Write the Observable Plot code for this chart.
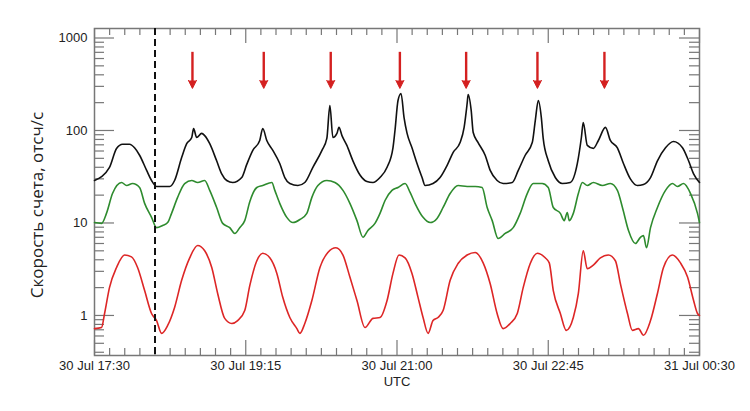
<!DOCTYPE html>
<html>
<head>
<meta charset="utf-8">
<script src="https://cdn.jsdelivr.net/npm/d3@7"></script>
<script src="https://cdn.jsdelivr.net/npm/@observablehq/plot@0.6"></script>
<style>
  html, body { margin: 0; padding: 0; background: #fff; }
</style>
</head>
<body>
<div id="chart"></div>
<script>
// Time in minutes after 30 Jul 17:30 UTC; values in counts/s
const blackT = [0,10.4,15.3,19.5,24.3,27.8,31.3,36.2,39.6,43.1,52.2,55.6,60.5,64,67.5,68.8,70.9,74.4,76.5,80,84.8,88.3,91.8,96,102.2,105.7,109.9,114.7,116.8,119.6,123.8,128.6,132.1,135.6,141.2,146,151.6,157.9,161.3,163.4,165.5,168.3,169.7,171.8,175.2,179.4,184.3,189.1,193.3,198.2,203.1,207.2,208.6,210.7,212.8,214.9,217,220.4,223.9,227.4,229.5,235,239.9,244.8,249,253.8,256.6,258.7,259.4,261.5,262.9,266.3,271.2,274.7,279.5,283.7,290,294.2,299,303.9,306,308.1,310.2,311.5,315,319.9,324.8,330.3,335.2,338,339.3,342.1,346.3,349.8,354.7,358.1,363,367.2,372,376.9,381.1,386,390.8,396.4,401.9,408.2,412.4,415.9,420];
const blackV = [28.8,40,64,71,71,65,54,37,28.8,24.8,24.8,28.8,51,72,84,105,84,93,88,72,47,34,28.8,27.4,31,43,61,78,105,78,61,44,31,26.7,25.4,27.4,40,61,82,186,84,93,108,88,69,47,33,28.1,27.4,31,40,65,100,211,251,138,93,65,44,31,25.4,26.7,31,42,58,74,108,196,245,165,95,74,54,37,28.8,26.7,27.4,37,54,74,128,211,138,82,47,31,26.7,27.4,44,84,122,69,64,78,108,78,65,44,30,25.4,26.1,31,47,65,76,65,47,34,27.4];

const greenT = [0,4.9,8.3,12.5,18.8,22.3,26.4,31.3,34.8,39.6,43.1,47.3,50.8,53.5,57.7,62.6,67.5,71.6,76.5,80,84.8,89,93.9,97.4,100.8,104.3,107.8,112.7,116.8,123.1,125.2,128.6,133.5,137.7,142.6,147.4,150.9,155.1,161.3,166.9,172.5,177.3,182.2,186.4,189.8,194.7,198.2,201.7,206.5,210.7,215.6,219.1,222.5,228.1,233,237.8,242,246.9,252.4,258.7,264.3,269.1,272.6,276.1,280.2,285.1,290.7,295.5,300.4,304.6,310.8,315,318.5,323.4,326.1,328.2,329.6,332.4,335.9,338.7,342.1,346.3,352.6,358.1,363,366.5,370.7,375.5,379,381.1,383.2,386,390.8,396.4,401.2,404.7,408.9,413.8,418.6,420];
const greenV = [10.1,9.9,12.7,20.8,27.4,25.4,26.7,24.2,16.3,11.5,8.9,9.4,10.1,12.7,18.9,26.7,28.8,27.4,28.8,22.5,14.7,9.9,8.9,7.7,8.9,10.6,17,24.2,25.4,27.4,22.5,16.3,11.5,10.1,10.9,12.7,18.9,25.4,28.8,27.4,22.5,16.3,10.6,7.0,8.3,9.9,12.7,17.5,22.5,24.2,26.7,21.4,16.3,11.5,10.1,11.2,14.7,20.8,25.4,24.8,24.8,24.2,14.7,10.6,6.8,7.7,8.9,12.7,20.8,26.7,26.7,24.2,14.7,12.7,10.6,13.0,10.6,12.7,20.8,27.4,25.4,27.4,25.4,26.7,22.5,14.7,8.3,6.0,7.0,7.3,5.4,8.9,14.7,22.5,26.7,24.8,26.7,20.8,12.7,10.1];

const redT = [0,4.9,7,10.4,15.3,20.9,25.7,29.9,34.8,39.6,43.1,46.6,50.8,55.6,60.5,66.1,71.6,76.5,81.4,85.5,90.4,95.3,99.4,104.3,107.8,112.7,116.8,121.7,126.6,130.7,135.6,140.5,142.6,146,150.9,156.5,162,167.6,172.5,177.3,182.2,187.8,193.3,198.2,203.1,207.2,211.4,215.6,220.4,224.6,228.1,231.6,235,238.5,242,246.9,252.4,258.7,264.3,269.8,274.7,279.5,283.7,288.6,293.5,297.6,302.5,307.4,312.9,315.7,318.5,323.4,327.5,332.4,335.9,339.3,342.1,346.3,351.2,356.7,361.6,365.1,370,373.4,377.6,381.1,386,390.8,395,401.2,406.8,411.7,415.9,418.6,420];
const redV = [0.72,0.74,1.05,2.0,3.3,4.5,4.3,3.3,1.86,1.05,0.88,0.64,0.78,1.22,2.4,4.2,5.7,5.0,3.3,1.73,0.93,0.82,0.88,1.13,2.1,3.9,4.7,4.2,2.85,1.57,0.95,0.72,0.64,0.82,1.45,3.3,4.8,5.4,4.5,2.6,1.45,0.74,0.93,0.95,1.45,2.85,4.5,4.2,2.85,1.57,0.95,0.64,0.88,0.95,1.13,2.4,3.65,4.5,4.8,3.7,2.2,1.05,0.72,0.82,1.05,2.0,3.65,4.7,4.2,3.7,1.86,1.05,0.69,0.95,1.73,5.0,3.2,3.5,4.2,4.5,3.9,2.2,1.05,0.69,0.72,0.61,0.88,1.73,3.3,4.5,3.7,2.6,1.45,1.05,1.0];

const arrowTimes = [68, 117.5, 164, 212, 258, 307.5, 354];
const arrowFrom = 700;
const arrowTo = 285;
const eventTime = 42;

const majorTicks = [0, 105, 210, 315, 420];
const majorLabels = ["30 Jul 17:30", "30 Jul 19:15", "30 Jul 21:00", "30 Jul 22:45", "31 Jul 00:30"];
const minorStep = 10.5;
const yMajor = [1, 10, 100, 1000];
const yLabels = ["1", "10", "100", "1000"];
const yTitle = "Скорость счета, отсч/с";
const xTitle = "UTC";

const W = 750, H = 411;
const mL = 94, mR = 51, mT = 28, mB = 56;
const innerW = W - mL - mR, innerH = H - mT - mB;

const toRows = (T, V) => T.map((t, i) => ({t, v: V[i]}));
const black = toRows(blackT, blackV);
const green = toRows(greenT, greenV);
const red = toRows(redT, redV);

const minorX = d3.range(0, 420 + 0.01, minorStep).filter(m => !majorTicks.includes(m));
const yMinor = [];
for (const dec of [0.1, 1, 10, 100]) for (let k = 2; k <= 9; k++) {
  const v = +(k * dec).toPrecision(3);
  if (v >= 0.37 && v <= 1267) yMinor.push(v);
}

const axisColor = "#777";
const arrowColor = "#d42020";
const chart = Plot.plot({
  width: W, height: H,
  marginLeft: mL, marginRight: mR, marginTop: mT, marginBottom: mB,
  style: {fontFamily: "'Liberation Sans', Arial, sans-serif", fontSize: "13px", background: "#fff", color: "#222"},
  x: {type: "linear", domain: [0, 420], label: null, axis: null},
  y: {type: "log", domain: [0.369, 1267], label: null, axis: null},
  marks: [
    // inward ticks
    Plot.ruleX(minorX, {x: d => d, insetTop: innerH - 7, stroke: axisColor, strokeWidth: 1.2}),
    Plot.ruleX(minorX, {x: d => d, insetBottom: innerH - 7, stroke: axisColor, strokeWidth: 1.2}),
    Plot.ruleX(majorTicks, {x: d => d, insetTop: innerH - 15, stroke: axisColor, strokeWidth: 1.2}),
    Plot.ruleX(majorTicks, {x: d => d, insetBottom: innerH - 15, stroke: axisColor, strokeWidth: 1.2}),
    Plot.ruleY(yMinor, {y: d => d, insetRight: innerW - 10, stroke: axisColor, strokeWidth: 1.2}),
    Plot.ruleY(yMinor, {y: d => d, insetLeft: innerW - 10, stroke: axisColor, strokeWidth: 1.2}),
    Plot.ruleY(yMajor, {y: d => d, insetRight: innerW - 20, stroke: axisColor, strokeWidth: 1.2}),
    Plot.ruleY(yMajor, {y: d => d, insetLeft: innerW - 20, stroke: axisColor, strokeWidth: 1.2}),
    Plot.frame({stroke: axisColor, strokeWidth: 1.5}),
    // labels
    Plot.axisX(majorTicks, {x: d => d, tickSize: 0, tickPadding: 5, label: null,
      tickFormat: d => majorLabels[majorTicks.indexOf(d)], fontSize: 13}),
    Plot.axisY(yMajor, {y: d => d, tickSize: 0, tickPadding: 7, label: null,
      tickFormat: d => yLabels[yMajor.indexOf(d)], fontSize: 13}),
    Plot.text([xTitle], {frameAnchor: "bottom", dy: 30, fontSize: 13}),
    Plot.text([yTitle], {frameAnchor: "left", textAnchor: "middle", dx: -57, dy: 13, rotate: -90, fontSize: 17,
      fontFamily: "'Open Sans', 'Liberation Sans', sans-serif"}),
    // series
    Plot.line(black, {x: "t", y: "v", stroke: "#111", strokeWidth: 1.6, curve: "monotone-x"}),
    Plot.line(green, {x: "t", y: "v", stroke: "#2e8b2e", strokeWidth: 1.6, curve: "monotone-x"}),
    Plot.line(red, {x: "t", y: "v", stroke: "#dd2626", strokeWidth: 1.6, curve: "monotone-x"}),
    // event marker
    Plot.ruleX([eventTime], {x: d => d, stroke: "#111", strokeWidth: 2, strokeDasharray: "7,4"}),
    Plot.ruleX(arrowTimes, {x: d => d, y1: arrowFrom, y2: arrowTo, insetBottom: 5, stroke: arrowColor, strokeWidth: 2.4}),
    Plot.vector(arrowTimes, {x: d => d, y: arrowTo, length: 8, r: 4, shape: "spike", rotate: 180,
      anchor: "end", fill: arrowColor, stroke: arrowColor, strokeWidth: 1})
  ]
});
document.getElementById("chart").appendChild(chart);
</script>
</body>
</html>
